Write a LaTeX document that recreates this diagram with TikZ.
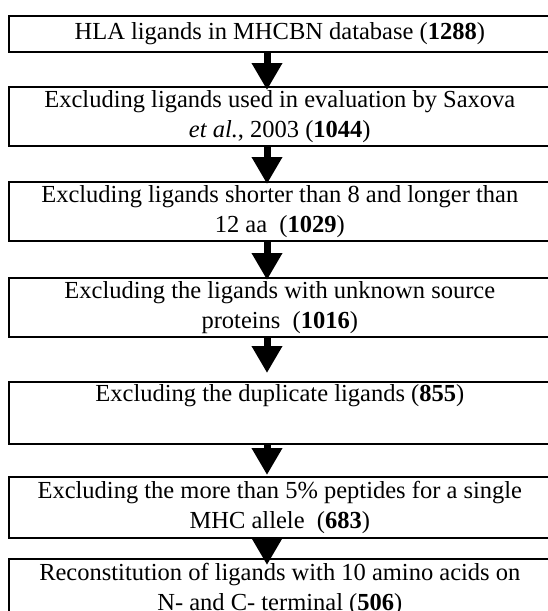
\documentclass[tikz,border=0pt]{standalone}
\usepackage{fontspec}
\setmainfont{Liberation Serif}
\usetikzlibrary{arrows.meta}
\begin{document}
\begin{tikzpicture}[x=1pt,y=-1pt,
  box/.style={draw=black, line width=1.6pt, minimum width=542pt, inner sep=0pt,
    align=center, anchor=north west, font=\fontsize{24.5}{30}\selectfont},
  arr/.style={line width=7pt, -{Triangle[width=29pt,length=27pt]}}]
\useasboundingbox (0,0) rectangle (548,611);
\clip (0,0) rectangle (548,611);
\node[box, minimum height=36pt] (b1) at (8,15) {HLA ligands in MHCBN database (\textbf{1288})};
\node[box, minimum height=59pt] (b2) at (8,86) {Excluding ligands used in evaluation by Saxova\\ \textit{et al.}, 2003 (\textbf{1044})};
\node[box, minimum height=59pt] (b3) at (8,181) {Excluding ligands shorter than 8 and longer than\\ 12 aa\ \ (\textbf{1029})};
\node[box, minimum height=59pt] (b4) at (8,277) {Excluding the ligands with unknown source\\ proteins\ \ (\textbf{1016})};
\node[box, minimum height=62pt] (b5) at (8,381) {Excluding the duplicate ligands (\textbf{855})\\ \strut};
\node[box, minimum height=61pt] (b6) at (8,476) {Excluding the more than 5\% peptides for a single\\ MHC allele\ \ (\textbf{683})};
\node[box, minimum height=62pt] (b7) at (8,558) {Reconstitution of ligands with 10 amino acids on\\ N- and C- terminal (\textbf{506})};
\coordinate (ax) at (267,0);
\draw[arr, shorten >=-4pt] (b1.south -| ax) -- (b2.north -| ax);
\draw[arr, shorten >=-3pt] (b2.south -| ax) -- (b3.north -| ax);
\draw[arr, shorten >=-3pt] (b3.south -| ax) -- (b4.north -| ax);
\draw[arr, shorten >=8pt] (b4.south -| ax) -- (b5.north -| ax);
\draw[arr, shorten >=1pt] (b5.south -| ax) -- (b6.north -| ax);
\draw[arr, shorten >=-7pt] (b6.south -| ax) -- (b7.north -| ax);
\end{tikzpicture}
\end{document}
